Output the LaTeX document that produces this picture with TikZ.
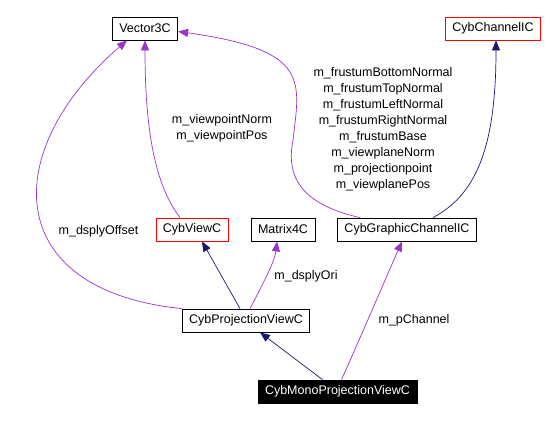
\documentclass[tikz,border=0pt]{standalone}
\usepackage{fontspec}
\setmainfont{Liberation Sans}
\usetikzlibrary{arrows.meta}
\definecolor{memberpurple}{HTML}{9A32CD}
\definecolor{inheritblue}{HTML}{191970}

\begin{document}
\begin{tikzpicture}[
  x=1pt, y=-1pt,
  cls/.style={rectangle, draw, fill=white, font=\fontsize{12.5}{16}\selectfont, inner xsep=7pt, inner ysep=0pt, minimum height=23pt, line width=0.8pt},
  undoc/.style={cls, draw=red},
  focus/.style={cls, fill=black, text=white},
  inh/.style={-{Triangle[length=10pt,width=8pt]}, draw=inheritblue, line width=0.7pt},
  use/.style={-{Triangle[length=10pt,width=8pt]}, draw=memberpurple, line width=0.7pt},
  lbl/.style={font=\fontsize{12.5}{16}\selectfont, align=center, inner sep=0pt}
]
\useasboundingbox (0,0) rectangle (545,420);

\node[cls] (vec) at (145,28.5) {Vector3C};
\node[undoc] (chan) at (493,28.5) {CybChannelIC};
\node[undoc] (view) at (192,229.5) {CybViewC};
\node[cls] (mat) at (283,229.5) {Matrix4C};
\node[cls] (gfx) at (407,229.5) {CybGraphicChannelIC};
\node[cls] (proj) at (246,320.5) {CybProjectionViewC};
\node[focus] (mono) at (337.5,391.5) {CybMonoProjectionViewC};

\node[lbl] (lvp) at (222,128) {m\_viewpointNorm\\m\_viewpointPos};
\node[lbl] (lfr) at (383,129) {m\_frustumBottomNormal\\m\_frustumTopNormal\\m\_frustumLeftNormal\\m\_frustumRightNormal\\m\_frustumBase\\m\_viewplaneNorm\\m\_projectionpoint\\m\_viewplanePos};
\node[lbl] (loff) at (98.5,231) {m\_dsplyOffset};
\node[lbl] (lori) at (306,276) {m\_dsplyOri};
\node[lbl] (lpch) at (414,320) {m\_pChannel};

\draw[use] ([xshift=-12pt]view.north) .. controls (155,185) and (145,130) .. (vec.south);
\draw[use] (proj.north west) .. controls (0,290) and (0,150) .. ([xshift=-18pt]vec.south);
\draw[use] ([xshift=-47pt]gfx.north) .. controls (305,205) and (285,180) .. (293,140) .. controls (300,80) and (310,50) .. ([yshift=-3pt]vec.east);
\draw[inh] ([xshift=26pt]gfx.north) .. controls (475,195) and (496,150) .. ([xshift=3pt]chan.south);
\draw[inh] ([xshift=-6pt]proj.north) -- ([xshift=10pt]view.south);
\draw[use] ([xshift=4pt]proj.north) .. controls (265,280) and (275,260) .. ([xshift=-6pt]mat.south);
\draw[inh] ([xshift=-15pt]mono.north) -- ([xshift=14pt]proj.south);
\draw[use] ([xshift=4pt]mono.north) .. controls (355,350) and (385,280) .. ([xshift=-5pt]gfx.south);
\end{tikzpicture}
\end{document}
